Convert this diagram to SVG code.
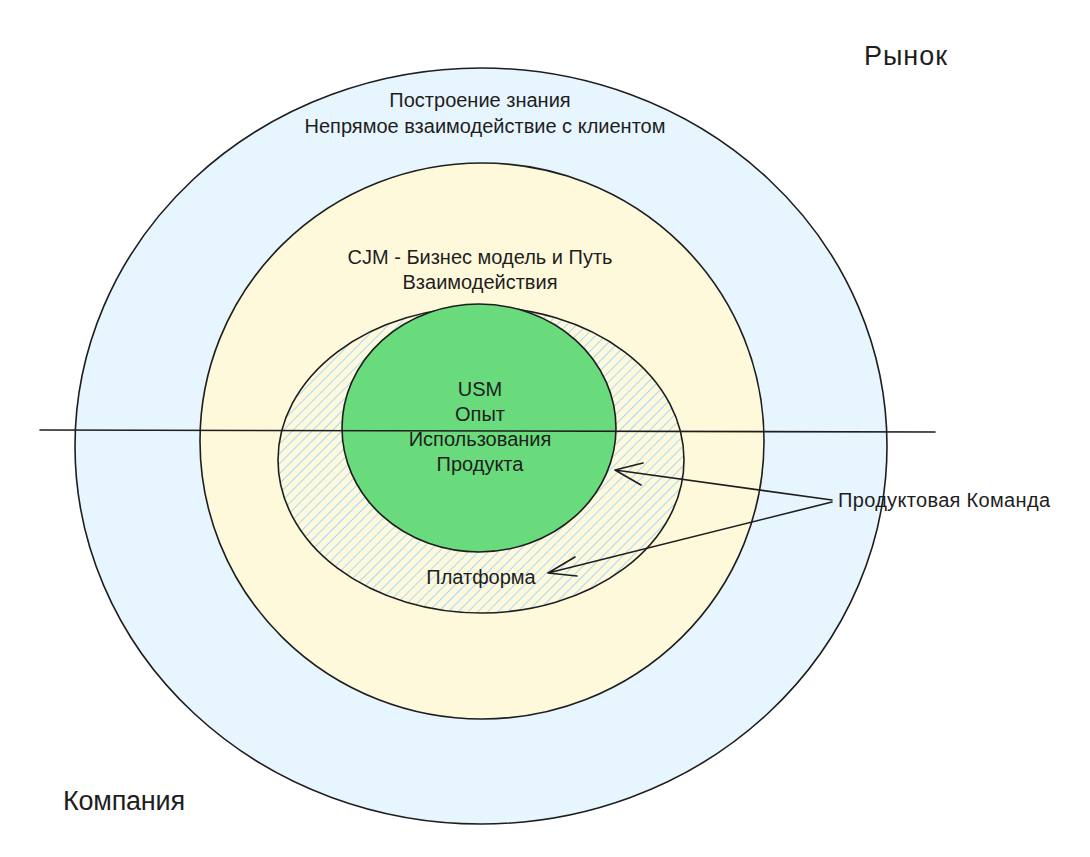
<svg xmlns="http://www.w3.org/2000/svg" width="1090" height="857" viewBox="0 0 1090 857">
  <defs>
    <pattern id="hatch" patternUnits="userSpaceOnUse" width="7" height="7" patternTransform="rotate(45)">
      <rect width="7" height="7" fill="#fff9db"/>
      <line x1="0" y1="0" x2="0" y2="7" stroke="#a5d8ff" stroke-width="2"/>
    </pattern>
    <style>
      .shape { stroke: #1e1e1e; stroke-width: 1.6; }
      .line { stroke: #1e1e1e; stroke-width: 1.6; fill: none; stroke-linecap: round; stroke-linejoin: round; }
      .t { font-family: "Liberation Sans", Arial, sans-serif; font-size: 20px; fill: #1e1e1e; text-anchor: middle; }
      .big { font-family: "Liberation Sans", Arial, sans-serif; font-size: 27px; fill: #1e1e1e; }
    </style>
  </defs>
  <rect width="1090" height="857" fill="#ffffff"/>

  <g id="market-ring">
    <ellipse cx="481" cy="446" rx="406" ry="378" fill="#e7f5ff" class="shape"/>
    <text class="t" x="480" y="107">Построение знания</text>
    <text class="t" x="485" y="133">Непрямое взаимодействие с клиентом</text>
  </g>

  <g id="cjm-ring">
    <ellipse cx="482" cy="441" rx="282" ry="278" fill="#fff9db" class="shape"/>
    <text class="t" x="480" y="264">CJM - Бизнес модель и Путь</text>
    <text class="t" x="480" y="289">Взаимодействия</text>
  </g>

  <g id="platform">
    <ellipse cx="481" cy="460" rx="203" ry="153" fill="url(#hatch)" class="shape"/>
    <text class="t" x="481" y="584">Платформа</text>
  </g>

  <g id="usm">
    <ellipse cx="479" cy="428" rx="137" ry="124" fill="#69db7c" class="shape"/>
  </g>

  <g id="connectors">
    <line class="line" x1="40" y1="430" x2="935" y2="432"/>
    <path class="line" d="M832 500 L615 470 M643 463 L615 470 L641 485"/>
    <path class="line" d="M832 502 L548 573 M575 557 L548 573 L577 576"/>
  </g>

  <g id="usm-text">
    <text class="t" x="480" y="396">USM</text>
    <text class="t" x="480" y="421">Опыт</text>
    <text class="t" x="480" y="446">Использования</text>
    <text class="t" x="480" y="471">Продукта</text>
  </g>

  <g id="team-label">
    <text class="t" x="838" y="507" style="text-anchor:start" textLength="212">Продуктовая Команда</text>
  </g>

  <g id="market-label">
    <text class="big" x="864" y="65" textLength="83">Рынок</text>
  </g>

  <g id="company-label">
    <text class="big" x="63" y="810" textLength="122">Компания</text>
  </g>
</svg>
